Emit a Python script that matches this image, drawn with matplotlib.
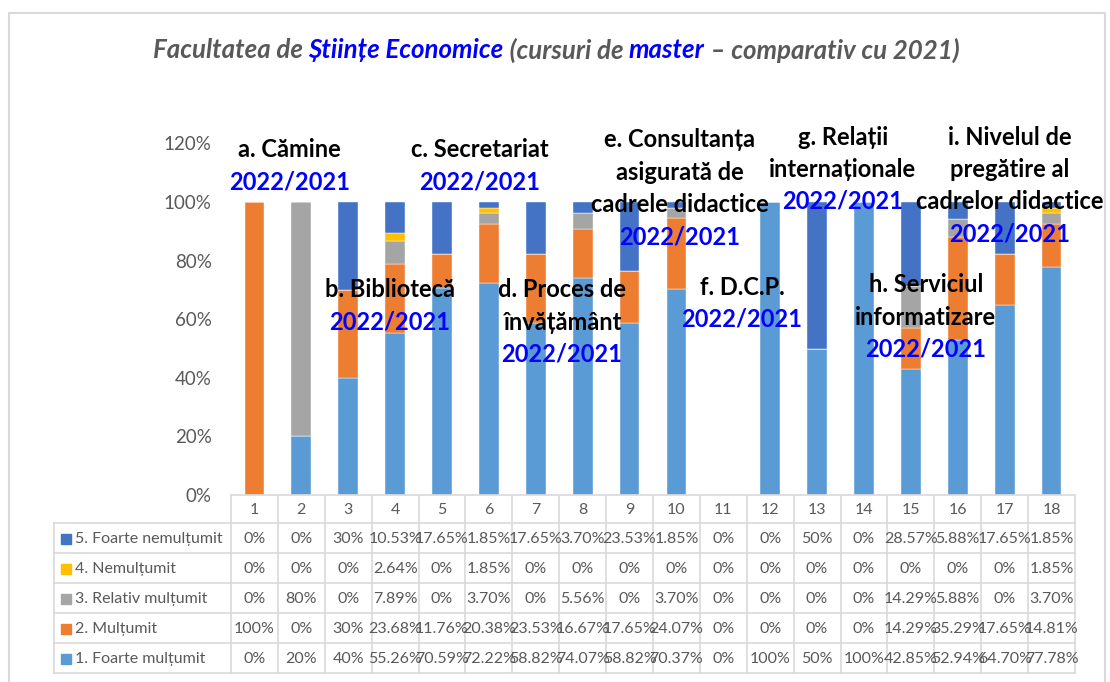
import matplotlib
matplotlib.use('Agg')
import matplotlib.pyplot as plt
import matplotlib.patches as mpatches
import numpy as np

plt.rcParams['font.family'] = ['Lato', 'DejaVu Sans']

# categories (columns of the data table)
categories = [str(i) for i in range(1, 19)]

# series, bottom to top of the stack
series_names = ['1. Foarte mulțumit', '2. Mulțumit', '3. Relativ mulțumit',
                '4. Nemulțumit', '5. Foarte nemulțumit']
foarte_multumit = [0, 20, 40, 55.26, 70.59, 72.22, 58.82, 74.07, 58.82, 70.37,
                   0, 100, 50, 100, 42.85, 52.94, 64.70, 77.78]
multumit = [100, 0, 30, 23.68, 11.76, 20.38, 23.53, 16.67, 17.65, 24.07,
            0, 0, 0, 0, 14.29, 35.29, 17.65, 14.81]
relativ = [0, 80, 0, 7.89, 0, 3.70, 0, 5.56, 0, 3.70,
           0, 0, 0, 0, 14.29, 5.88, 0, 3.70]
nemultumit = [0, 0, 0, 2.64, 0, 1.85, 0, 0, 0, 0,
              0, 0, 0, 0, 0, 0, 0, 1.85]
foarte_nemultumit = [0, 0, 30, 10.53, 17.65, 1.85, 17.65, 3.70, 23.53, 1.85,
                     0, 0, 50, 0, 28.57, 5.88, 17.65, 1.85]
colors = ['#5B9BD5', '#ED7D31', '#A5A5A5', '#FFC000', '#4472C4']

# section labels: (x position in category index, y of first line in %, lines)
sections = [
    (0.74, 117.8, ['a. Cămine']),
    (2.89, 70.0, ['b. Bibliotecă']),
    (4.80, 117.8, ['c. Secretariat']),
    (6.56, 70.0, ['d. Proces de', 'învățământ']),
    (9.07, 121.2, ['e. Consultanța', 'asigurată de', 'cadrele didactice']),
    (10.40, 71.0, ['f. D.C.P.']),
    (12.55, 122.2, ['g. Relații', 'internaționale']),
    (14.32, 71.7, ['h. Serviciul', 'informatizare']),
    (16.11, 122.2, ['i. Nivelul de', 'pregătire al', 'cadrelor didactice']),
]
year_label = '2022/2021'

W, H = 1110, 682
fig = plt.figure(figsize=(W / 100, H / 100), dpi=100)

left_px, right_px, bottom_px, top_px = 231, 1075, 495, 143.5
ax = fig.add_axes([left_px / W, 1 - bottom_px / H,
                   (right_px - left_px) / W, (bottom_px - top_px) / H])

data = [foarte_multumit, multumit, relativ, nemultumit, foarte_nemultumit]
x = np.arange(len(categories))
bottom = np.zeros(len(categories))
for name, vals, c in zip(series_names, data, colors):
    ax.bar(x, vals, 0.42, bottom=bottom, color=c, label=name, zorder=2,
           edgecolor='white', linewidth=0.3)
    bottom += np.array(vals)

ax.set_xlim(-0.5, len(categories) - 0.5)
ax.set_ylim(0, 120)
ax.set_yticks(np.arange(0, 121, 20))
ax.set_yticklabels([f'{v}%' for v in range(0, 121, 20)], color='#595959', fontsize=13.5)
ax.set_xticks([])
ax.tick_params(axis='y', length=0, pad=14)
for s in ['top', 'right', 'left']:
    ax.spines[s].set_visible(False)
ax.spines['bottom'].set_color('#D9D9D9')
ax.spines['bottom'].set_linewidth(1.2)

# section labels with the blue year line
line_h = 11.0  # in % units
for xc, yc, lines in sections:
    for k, t in enumerate(lines + [year_label]):
        col = '#0000FF' if t == year_label else 'black'
        ax.text(xc, yc - k * line_h, t, ha='center', va='center', fontsize=17,
                fontweight='bold', color=col, zorder=5, clip_on=False)

# data table drawn in pixel coordinates
tab = fig.add_axes([0, 0, 1, 1], zorder=-1)
tab.set_xlim(0, W)
tab.set_ylim(H, 0)
tab.axis('off')
ncat = len(categories)
colw = (right_px - left_px) / ncat
grid_c = '#D9D9D9'
head_top, head_bot, row_h = bottom_px, 523, 30
nrows = len(series_names)
tab_bot = head_bot + nrows * row_h
label_left = 54
for i in range(ncat + 1):
    xe = left_px + i * colw
    tab.plot([xe, xe], [head_top, tab_bot], color=grid_c, lw=1.2)
tab.plot([label_left, label_left], [head_bot, tab_bot], color=grid_c, lw=1.2)
for r in range(nrows + 1):
    ye = head_bot + r * row_h
    tab.plot([label_left, right_px], [ye, ye], color=grid_c, lw=1.2)
for i, c in enumerate(categories):
    tab.text(left_px + (i + 0.5) * colw, (head_top + head_bot) / 2 + 1, c,
             ha='center', va='center', fontsize=11.5, color='#595959')


def fmt(v):
    return f'{v:.0f}%' if float(v).is_integer() else f'{v:.2f}%'


for r in range(nrows):
    si = nrows - 1 - r
    yc = head_bot + (r + 0.5) * row_h + 1
    tab.add_patch(mpatches.Rectangle((61, yc - 5.5), 10, 10, color=colors[si]))
    tab.text(75, yc, series_names[si], ha='left', va='center', fontsize=11.5,
             color='#595959')
    for i, v in enumerate(data[si]):
        tab.text(left_px + (i + 0.5) * colw, yc, fmt(v), ha='center', va='center',
                 fontsize=11.5, color='#595959')

# outer chart frame
tab.plot([9, 9, 1105, 1105], [H + 5, 13, 13, H + 5], color='#D9D9D9', lw=1.5)

# title with coloured parts
title_parts = [('Facultatea de ', '#595959'), ('Științe Economice', '#0000FF'),
               (' (cursuri de ', '#595959'), ('master', '#0000FF'),
               (' – comparativ cu 2021)', '#595959')]
renderer = fig.canvas.get_renderer()
objs = []
for t, c in title_parts:
    objs.append(tab.text(0, 50, t, ha='left', va='center', fontsize=18.6,
                         fontweight='bold', fontstyle='italic', color=c))
widths = [o.get_window_extent(renderer).width for o in objs]
xs = 556 - sum(widths) / 2
for o, w in zip(objs, widths):
    o.set_x(xs)
    xs += w

fig.savefig('out.png', dpi=100)
